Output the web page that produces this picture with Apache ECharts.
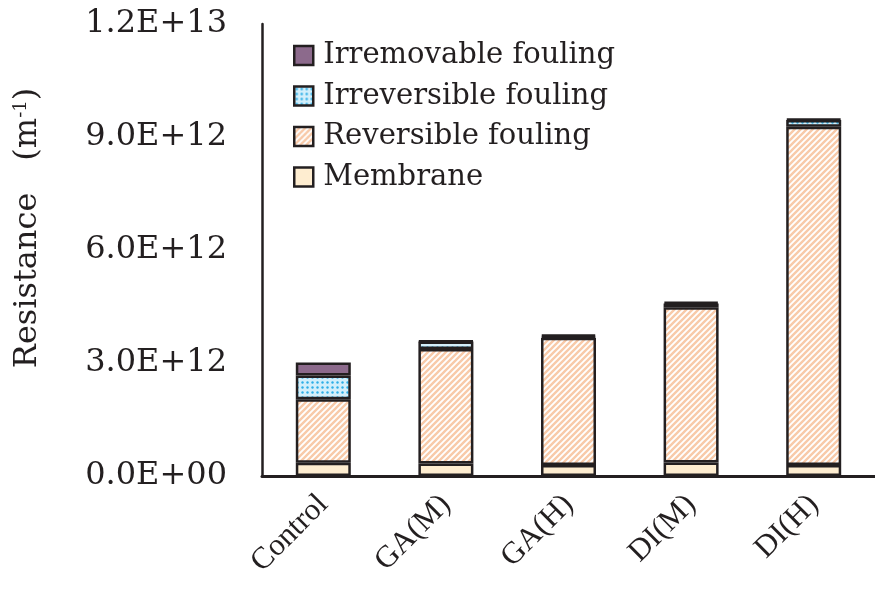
<!DOCTYPE html>
<html>
<head>
<meta charset="utf-8">
<script src="https://cdn.jsdelivr.net/npm/echarts@6/dist/echarts.min.js"></script>
<style>html,body{margin:0;padding:0;background:#fff;}#c{width:875px;height:590px;}</style>
</head>
<body>
<div id="c"></div>
<script>
const categories = ['Control', 'GA(M)', 'GA(H)', 'DI(M)', 'DI(H)'];
const membrane = [0.35e12, 0.33e12, 0.29e12, 0.36e12, 0.29e12];
const reversible = [1.69e12, 3.04e12, 3.38e12, 4.12e12, 8.98e12];
const irreversible = [0.63e12, 0.20e12, 0.04e12, 0.10e12, 0.18e12];
const irremovable = [0.34e12, 0.02e12, 0.04e12, 0.04e12, 0.03e12];
const yTicks = [0, 3e12, 6e12, 9e12, 1.2e13];
const seriesNames = ['Membrane', 'Reversible fouling', 'Irreversible fouling', 'Irremovable fouling'];

function hatch() {
  const n = 6, c = document.createElement('canvas');
  c.width = n; c.height = n;
  const g = c.getContext('2d');
  g.fillStyle = '#ffffff'; g.fillRect(0, 0, n, n);
  g.strokeStyle = '#f8caa9'; g.lineWidth = 2.4;
  g.beginPath();
  g.moveTo(-1, n + 1); g.lineTo(n + 1, -1);
  g.moveTo(-1, 1); g.lineTo(1, -1);
  g.moveTo(n - 1, n + 1); g.lineTo(n + 1, n - 1);
  g.stroke();
  return c;
}
function dots() {
  const n = 5, c = document.createElement('canvas');
  c.width = n; c.height = n;
  const g = c.getContext('2d');
  g.fillStyle = '#d3effb'; g.fillRect(0, 0, n, n);
  g.fillStyle = '#2eaee6';
  g.beginPath(); g.arc(2.5, 2.5, 1.2, 0, Math.PI * 2); g.fill();
  return c;
}
function sci(v) {
  if (v === 0) return '0.0E+00';
  const e = Math.floor(Math.log10(v) + 1e-9);
  const m = v / Math.pow(10, e);
  return m.toFixed(1) + 'E+' + String(e).padStart(2, '0');
}

const border = { borderColor: '#231f20', borderWidth: 2.5 };
const fills = [
  '#feedd0',
  { image: hatch(), repeat: 'repeat' },
  { image: dots(), repeat: 'repeat' },
  '#8c6a8c'
];
const values = [membrane, reversible, irreversible, irremovable];

const chart = echarts.init(document.getElementById('c'), null, { renderer: 'canvas' });
chart.setOption({
  animation: false,
  backgroundColor: '#ffffff',
  grid: { left: 262, top: 24, bottom: 114, width: 620, containLabel: false },
  legend: {
    orient: 'vertical', left: 288, top: 36,
    data: ['Irremovable fouling', 'Irreversible fouling', 'Reversible fouling', 'Membrane'],
    itemWidth: 19, itemHeight: 19, itemGap: 11.5, icon: 'rect',
    itemStyle: { borderColor: '#231f20', borderWidth: 2.5 },
    textStyle: { fontFamily: 'DejaVu Serif', fontSize: 29, color: '#231f20', lineHeight: 28, padding: [0, 0, 0, 5] }
  },
  xAxis: {
    type: 'category', data: categories,
    axisLine: { lineStyle: { color: '#231f20', width: 3 } },
    axisTick: { show: false },
    axisLabel: { rotate: 45, margin: 24, fontFamily: 'Liberation Serif', fontSize: 31, color: '#231f20' }
  },
  yAxis: {
    type: 'value', min: yTicks[0], max: yTicks[yTicks.length - 1], interval: yTicks[1] - yTicks[0],
    name: 'Resistance\u3000(m{sup|-1})',
    nameLocation: 'middle', nameGap: 218, nameRotate: 90,
    nameTextStyle: {
      fontFamily: 'DejaVu Serif', fontSize: 32, color: '#231f20', padding: [0, 0, 0, 44],
      rich: { sup: { fontFamily: 'DejaVu Serif', fontSize: 18, verticalAlign: 'top', padding: [0, 0, 14, 0], color: '#231f20' } }
    },
    axisLine: { show: true, lineStyle: { color: '#231f20', width: 2.5 } },
    axisTick: { show: false },
    splitLine: { show: false },
    axisLabel: { margin: 35, fontFamily: 'DejaVu Serif', fontSize: 32, color: '#231f20', formatter: sci }
  },
  series: seriesNames.map((name, i) => ({
    name, type: 'bar', stack: 'total', barWidth: 55,
    data: values[i],
    itemStyle: Object.assign({ color: fills[i] }, border)
  }))
});
</script>
</body>
</html>
